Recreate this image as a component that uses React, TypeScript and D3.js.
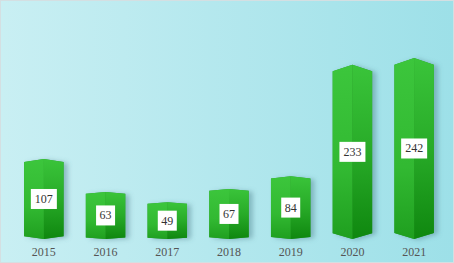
import React from "react";
import * as d3 from "d3";

const years = ["2015", "2016", "2017", "2018", "2019", "2020", "2021"];
const values = [107, 63, 49, 67, 84, 233, 242];

const W = 454;
const H = 263;

export default function App() {
  const x = d3.scaleBand<string>().domain(years).range([13, 445]).paddingInner(0.36).paddingOuter(0.18);
  const y = d3.scaleLinear().domain([0, 300]).range([239, 14.6]);
  const bw = x.bandwidth();

  return (
    <div style={{ position: "fixed", left: 0, top: 0 }}>
      <svg width={W} height={H} style={{ display: "block" }}>
        <defs>
          <linearGradient id="bg" x1="0" y1="0" x2="1" y2="0">
            <stop offset="0" stopColor="#c9eff3" />
            <stop offset="1" stopColor="#9de0e8" />
          </linearGradient>
          <linearGradient id="lf" x1="0" y1="0" x2="0" y2="1">
            <stop offset="0" stopColor="#3cc63c" />
            <stop offset="0.6" stopColor="#32b932" />
            <stop offset="1" stopColor="#1f9f1f" />
          </linearGradient>
          <linearGradient id="rf" x1="0" y1="0" x2="0" y2="1">
            <stop offset="0" stopColor="#3ac43a" />
            <stop offset="0.5" stopColor="#28ab28" />
            <stop offset="1" stopColor="#0f870f" />
          </linearGradient>
          <filter id="sh" x="-20%" y="-10%" width="150%" height="130%">
            <feDropShadow dx="4" dy="1" stdDeviation="2.5" floodColor="#4a7d86" floodOpacity="0.45" />
          </filter>
        </defs>
        <rect x={0.5} y={0.5} width={W - 1} height={H - 1} fill="url(#bg)" stroke="#d4dfe2" />
        {years.map((yr, i) => {
          const v = values[i];
          const x0 = x(yr)!;
          const x1 = x0 + bw;
          const xc = x0 + bw / 2;
          const yPeak = y(v);
          const yBot = y(0);
          const h = yBot - yPeak;
          const tp = h * 0.038;
          const bp = h * 0.033;
          const yt = yPeak + tp;
          const yb = yBot - bp;
          const left = `M${x0},${yt} L${xc},${yPeak} L${xc},${yBot} L${x0},${yb} Z`;
          const right = `M${xc},${yPeak} L${x1},${yt} L${x1},${yb} L${xc},${yBot} Z`;
          const whole = `M${x0},${yt} L${xc},${yPeak} L${x1},${yt} L${x1},${yb} L${xc},${yBot} L${x0},${yb} Z`;
          const ym = (yPeak + yBot) / 2;
          const label = String(v);
          const boxW = label.length * 7 + 5;
          return (
            <g key={yr}>
              <path d={whole} fill="#2a9a2a" filter="url(#sh)" />
              <path d={left} fill="url(#lf)" />
              <path d={right} fill="url(#rf)" />
              <rect x={xc - boxW / 2} y={ym - 10} width={boxW} height={20} fill="#ffffff" />
              <text
                x={xc}
                y={ym + 4}
                textAnchor="middle"
                fontFamily="'Liberation Serif', 'DejaVu Serif', serif"
                fontSize={12}
                fill="#333"
              >
                {label}
              </text>
              <text
                x={xc}
                y={256}
                textAnchor="middle"
                fontFamily="'Liberation Serif', 'DejaVu Serif', serif"
                fontSize={12}
                fill="#555"
              >
                {yr}
              </text>
            </g>
          );
        })}
      </svg>
    </div>
  );
}
